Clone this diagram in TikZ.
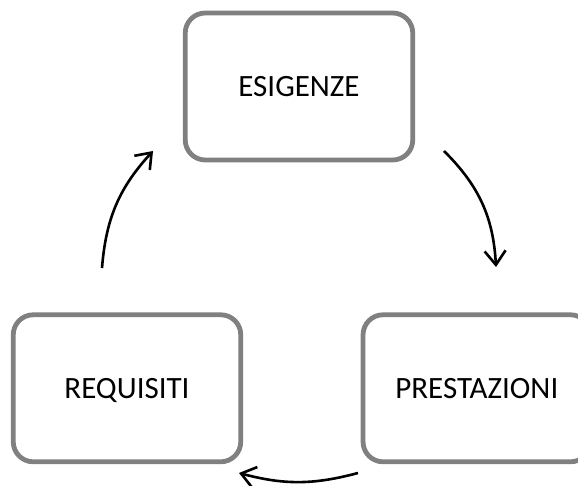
\documentclass[tikz,border=0pt]{standalone}
\usepackage{fontspec}
\setmainfont{Carlito}
\usetikzlibrary{positioning}
\usetikzlibrary{arrows.meta}
\definecolor{boxgray}{RGB}{128,128,128}

\begin{document}
\begin{tikzpicture}[x=1pt,y=1pt,
  every node/.style={draw=boxgray,line width=4.8pt,rounded corners=20pt,
    minimum width=227.5pt,minimum height=147pt,
    font=\fontsize{31}{37}\selectfont,text height=20pt,text depth=0pt},
  cyc/.style={line width=2.6pt,-{Straight Barb[length=14pt,width=21pt]}}]
\useasboundingbox (0,0) rectangle (578,486);
% the three stages
\node (esig) at (299,399.5) {ESIGENZE};
\node (req) [below=150pt of esig,xshift=-172pt] {REQUISITI};
\node (prest) [right=117.5pt of req] {PRESTAZIONI};
% ends of the cycle arrows
\coordinate (e1) at (444,335); \coordinate (p1) at (496,219);
\coordinate (p2) at (358,13);  \coordinate (r2) at (239,13);
\coordinate (r3) at (102,218); \coordinate (e3) at (153,335);
\draw[cyc] (e1) to[bend left=21] (p1);
\draw[cyc] (p2) to[bend left=15] (r2);
\draw[cyc] (r3) to[bend left=19] (e3);
\end{tikzpicture}
\end{document}
